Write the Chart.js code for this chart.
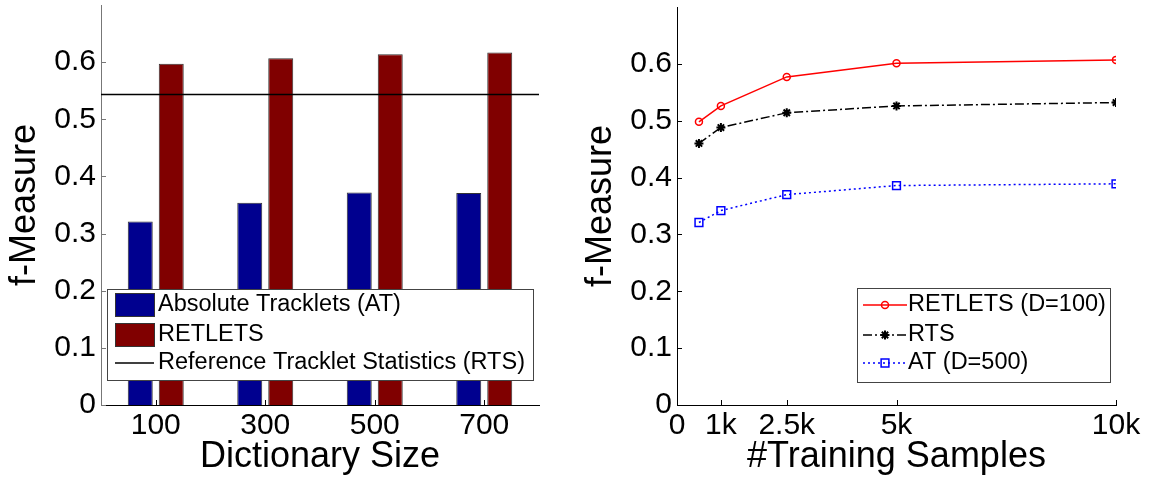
<!DOCTYPE html>
<html>
<head>
<meta charset="utf-8">
<script src="https://cdn.jsdelivr.net/npm/chart.js@4.4.0/dist/chart.umd.min.js"></script>
<style>
  body { margin: 0; background: #fff; width: 1156px; height: 483px; overflow: hidden; position: relative; }
  #left { position: absolute; left: 0; top: 0; }
  #right { position: absolute; left: 576px; top: 0; }
</style>
</head>
<body>
<canvas id="left" width="576" height="483"></canvas>
<canvas id="right" width="580" height="483"></canvas>
<script>
// left panel: f-measure vs dictionary size
const dictSizes = ['100', '300', '500', '700'];
const atBars = [0.321, 0.354, 0.372, 0.371];
const retletsBars = [0.597, 0.607, 0.614, 0.617];
const rtsLevel = 0.5435;

// right panel: f-measure vs number of training samples
const trainSamples = [500, 1000, 2500, 5000, 10000];
const retletsLine = [0.498, 0.526, 0.577, 0.601, 0.607];
const rtsLine = [0.460, 0.488, 0.514, 0.526, 0.532];
const atLine = [0.321, 0.342, 0.370, 0.386, 0.389];
const sampleTicks = [0, 1000, 2500, 5000, 10000];
const sampleTickLabels = ['0', '1k', '2.5k', '5k', '10k'];

const yTicks = [0, 0.1, 0.2, 0.3, 0.4, 0.5, 0.6];

const fontFamily = "'Liberation Sans', Arial, Helvetica, sans-serif";

// horizontal reference line across the whole plot (RTS level)
const refLine = {
  id: 'refLine',
  afterDatasetsDraw(chart, args, opts) {
    const ctx = chart.ctx;
    const area = chart.chartArea;
    const y = chart.scales.y.getPixelForValue(opts.value);
    ctx.save();
    ctx.strokeStyle = opts.color;
    ctx.lineWidth = opts.width;
    ctx.beginPath();
    ctx.moveTo(area.left, y);
    ctx.lineTo(area.right, y);
    ctx.stroke();
    ctx.restore();
  }
};

// matlab style legend box drawn inside the plot
const boxLegend = {
  id: 'boxLegend',
  afterDraw(chart, args, opts) {
    const ctx = chart.ctx;
    const entries = chart.data.datasets.concat(opts.extra || []);
    ctx.save();
    ctx.fillStyle = '#fff';
    ctx.fillRect(opts.x, opts.y, opts.w, opts.h);
    ctx.strokeStyle = '#444';
    ctx.lineWidth = 1;
    ctx.strokeRect(opts.x + 0.5, opts.y + 0.5, opts.w, opts.h);
    ctx.font = '23.5px ' + fontFamily;
    ctx.textBaseline = 'middle';
    ctx.textAlign = 'left';
    entries.forEach((ds, i) => {
      const cy = opts.rows[i];
      if (ds.type === 'bar') {
        ctx.fillStyle = ds.backgroundColor;
        ctx.fillRect(opts.sampleLeft, cy - 11.5, opts.sampleRight - opts.sampleLeft, 23);
        ctx.strokeStyle = ds.borderColor;
        ctx.lineWidth = 1;
        ctx.strokeRect(opts.sampleLeft + 0.5, cy - 11.5, opts.sampleRight - opts.sampleLeft, 23);
      } else {
        ctx.strokeStyle = ds.borderColor;
        ctx.lineWidth = ds.borderWidth;
        ctx.setLineDash(ds.borderDash || []);
        ctx.beginPath();
        ctx.moveTo(opts.sampleLeft, cy);
        ctx.lineTo(opts.sampleRight, cy);
        ctx.stroke();
        ctx.setLineDash([]);
        if (ds.pointRadius > 0) {
          ctx.strokeStyle = ds.pointBorderColor || ds.borderColor;
          ctx.fillStyle = ds.pointBackgroundColor || 'rgba(0,0,0,0)';
          ctx.lineWidth = ds.pointBorderWidth;
          Chart.helpers.drawPoint(ctx, {
            pointStyle: ds.pointStyle, radius: ds.pointRadius,
            borderWidth: ds.pointBorderWidth, rotation: 0
          }, (opts.sampleLeft + opts.sampleRight) / 2, cy);
        }
      }
      ctx.fillStyle = '#000';
      ctx.fillText(ds.label, opts.textX, cy);
    });
    ctx.restore();
  }
};

// small tick marks pointing into the plot
const inwardTicks = {
  id: 'inwardTicks',
  afterDatasetsDraw(chart) {
    const ctx = chart.ctx;
    const area = chart.chartArea;
    ctx.save();
    ctx.lineWidth = 1;
    Object.values(chart.scales).forEach(scale => {
      if (!scale.options.display) return;
      ctx.strokeStyle = scale.options.border.color;
      scale.ticks.forEach((t, i) => {
        const p = Math.round(scale.getPixelForTick(i)) + 0.5;
        ctx.beginPath();
        if (scale.isHorizontal()) {
          ctx.moveTo(p, area.bottom);
          ctx.lineTo(p, area.bottom - 5);
        } else {
          ctx.moveTo(area.left, p);
          ctx.lineTo(area.left + 5, p);
        }
        ctx.stroke();
      });
    });
    ctx.restore();
  }
};

function yAxis(borderColor) {
  return {
    min: 0,
    max: 0.7,
    grid: { display: false, drawTicks: false },
    border: { color: borderColor, width: 1 },
    ticks: {
      color: '#000',
      padding: 5,
      font: { family: fontFamily, size: 30, lineHeight: 1.2 },
      callback: v => String(Math.round(v * 10) / 10)
    },
    afterBuildTicks: s => { s.ticks = yTicks.map(v => ({ value: v })); },
    afterFit: s => {
      s.width = 101;
      s.paddingTop = 0;
      s.paddingBottom = 0;
    },
    title: {
      display: true,
      text: 'f-Measure',
      color: '#000',
      font: { family: fontFamily, size: 36, lineHeight: 1.2 },
      padding: { top: 3, bottom: 0 }
    }
  };
}

function xAxisFit(s) {
  s.height = 78;
  s.paddingLeft = 0;
  s.paddingRight = 0;
}

new Chart(document.getElementById('left'), {
  type: 'bar',
  data: {
    labels: dictSizes,
    datasets: [
      {
        type: 'bar',
        label: 'Absolute Tracklets (AT)',
        data: atBars,
        backgroundColor: '#00008f',
        borderColor: '#333',
        borderWidth: 1,
        categoryPercentage: 0.566,
        barPercentage: 0.806
      },
      {
        type: 'bar',
        label: 'RETLETS',
        data: retletsBars,
        backgroundColor: '#800000',
        borderColor: '#333',
        borderWidth: 1,
        categoryPercentage: 0.566,
        barPercentage: 0.806
      }
    ]
  },
  options: {
    responsive: false,
    animation: false,
    devicePixelRatio: 1,
    layout: { padding: { left: 0, top: 5, right: 37, bottom: 0 } },
    plugins: {
      legend: { display: false },
      tooltip: { enabled: false },
      refLine: { value: rtsLevel, color: '#000', width: 1.5 },
      boxLegend: {
        x: 107, y: 289, w: 426, h: 91,
        sampleLeft: 115, sampleRight: 154, textX: 158,
        rows: [305, 335, 363],
        extra: [{ label: 'Reference Tracklet Statistics (RTS)', borderColor: '#000', borderWidth: 1.5, pointRadius: 0 }]
      }
    },
    scales: {
      x: {
        grid: { display: false, drawTicks: false },
        border: { color: '#000', width: 1 },
        ticks: {
          color: '#000',
          padding: 3,
          font: { family: fontFamily, size: 30, lineHeight: 1.2 }
        },
        afterFit: xAxisFit,
        title: {
          display: true,
          text: 'Dictionary Size',
          color: '#000',
          font: { family: fontFamily, size: 36, lineHeight: 1.2 },
          padding: { top: 0, bottom: 4 }
        }
      },
      y: yAxis('#777')
    }
  },
  plugins: [refLine, inwardTicks, boxLegend]
});

const toPoints = vals => vals.map((v, i) => ({ x: trainSamples[i], y: v }));

new Chart(document.getElementById('right'), {
  type: 'line',
  data: {
    datasets: [
      {
        type: 'line',
        label: 'RETLETS (D=100)',
        data: toPoints(retletsLine),
        borderColor: '#ff0000',
        borderWidth: 1.5,
        pointStyle: 'circle',
        pointRadius: 3.5,
        pointBorderWidth: 1.5,
        pointBorderColor: '#ff0000',
        pointBackgroundColor: 'rgba(0,0,0,0)'
      },
      {
        type: 'line',
        label: 'RTS',
        data: toPoints(rtsLine),
        borderColor: '#000',
        borderWidth: 1.5,
        borderDash: [9, 3, 2, 3],
        pointStyle: 'star',
        pointRadius: 4.5,
        pointBorderWidth: 2,
        pointBorderColor: '#000',
        pointBackgroundColor: '#000'
      },
      {
        type: 'line',
        label: 'AT (D=500)',
        data: toPoints(atLine),
        borderColor: '#0000ff',
        borderWidth: 1.5,
        borderDash: [2, 3],
        pointStyle: 'rect',
        pointRadius: 5.5,
        pointBorderWidth: 1.5,
        pointBorderColor: '#0000ff',
        pointBackgroundColor: 'rgba(0,0,0,0)'
      }
    ]
  },
  options: {
    responsive: false,
    animation: false,
    devicePixelRatio: 1,
    layout: { padding: { left: 0, top: 5, right: 40, bottom: 0 } },
    plugins: {
      legend: { display: false },
      tooltip: { enabled: false },
      boxLegend: {
        x: 281, y: 288, w: 253, h: 94,
        sampleLeft: 287, sampleRight: 331, textX: 332,
        rows: [305, 335, 363]
      }
    },
    scales: {
      x: {
        type: 'linear',
        min: 0,
        max: 10000,
        grid: { display: false, drawTicks: false },
        border: { color: '#000', width: 1 },
        ticks: {
          color: '#000',
          padding: 3,
          font: { family: fontFamily, size: 30, lineHeight: 1.2 },
          callback: v => sampleTickLabels[sampleTicks.indexOf(v)]
        },
        afterBuildTicks: s => { s.ticks = sampleTicks.map(v => ({ value: v })); },
        afterFit: xAxisFit,
        title: {
          display: true,
          text: '#Training Samples',
          color: '#000',
          font: { family: fontFamily, size: 36, lineHeight: 1.2 },
          padding: { top: 0, bottom: 4 }
        }
      },
      y: yAxis('#000')
    }
  },
  plugins: [inwardTicks, boxLegend]
});
</script>
</body>
</html>
